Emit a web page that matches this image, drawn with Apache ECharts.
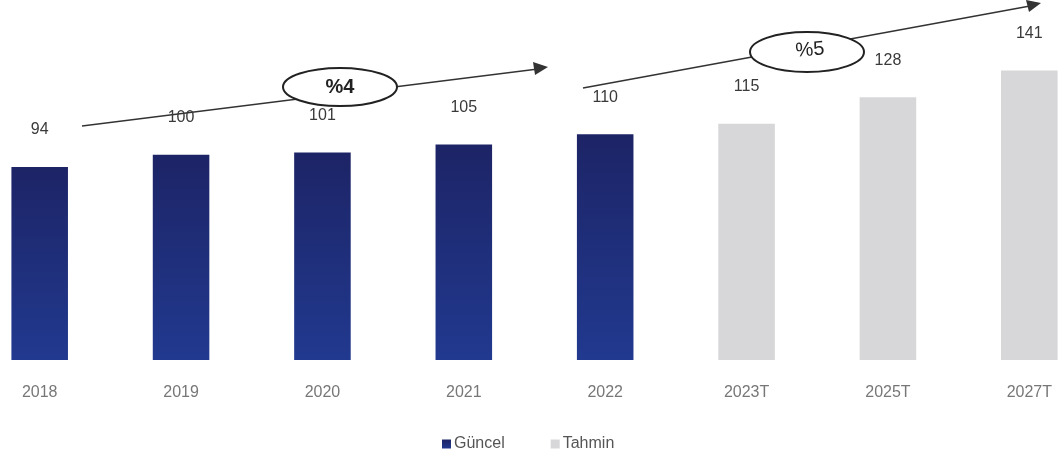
<!DOCTYPE html>
<html>
<head>
<meta charset="utf-8">
<script src="https://cdn.jsdelivr.net/npm/echarts@6/dist/echarts.min.js"></script>
<style>
  html, body { margin: 0; padding: 0; background: #fff; }
  #chart { width: 1063px; height: 466px; }
</style>
</head>
<body>
<div id="chart"></div>
<script>
const years = ['2018', '2019', '2020', '2021', '2022', '2023T', '2025T', '2027T']
const actual = [94, 100, 101, 105, 110, null, null, null]
const forecast = [null, null, null, null, null, 115, 128, 141]

const labelFont = 'Liberation Sans'
const barLabel = {
  show: true,
  position: 'top',
  distance: 29,
  color: '#3a3a3a',
  fontSize: 16,
  fontFamily: labelFont
}

const chart = echarts.init(document.getElementById('chart'))

chart.setOption({
  animation: false,
  grid: { left: -31, right: -37, top: 52, bottom: 106, outerBoundsMode: 'none' },
  legend: {
    bottom: 9,
    left: 437,
    itemWidth: 9,
    itemHeight: 9,
    itemGap: 46,
    icon: 'rect',
    textStyle: { color: '#555', fontSize: 16, fontFamily: labelFont, padding: [0, 0, 0, -2] },
    data: ['Güncel', 'Tahmin']
  },
  xAxis: {
    type: 'category',
    data: years,
    axisLine: { show: false },
    axisTick: { show: false },
    axisLabel: { color: '#777', fontSize: 16, margin: 25, fontFamily: labelFont }
  },
  yAxis: {
    type: 'value',
    min: 0,
    max: 150,
    show: false
  },
  series: [
    {
      name: 'Güncel',
      type: 'bar',
      barWidth: '40%',
      barGap: '-100%',
      label: barLabel,
      itemStyle: {
        color: new echarts.graphic.LinearGradient(0, 0, 0, 1, [
          { offset: 0, color: '#1d2466' },
          { offset: 1, color: '#21398f' }
        ])
      },
      data: actual
    },
    {
      name: 'Tahmin',
      type: 'bar',
      barWidth: '40%',
      label: barLabel,
      itemStyle: { color: '#d7d7da' },
      data: forecast
    }
  ],
  graphic: [
    // first growth arrow
    { type: 'line', shape: { x1: 82, y1: 126, x2: 538, y2: 69 }, style: { stroke: '#333', lineWidth: 1.5 } },
    { type: 'polygon', shape: { points: [[548, 67], [533, 62], [535, 75]] }, style: { fill: '#333' } },
    { type: 'ellipse', shape: { cx: 340, cy: 87, rx: 57, ry: 19 }, style: { fill: '#fff', stroke: '#222', lineWidth: 2 } },
    { type: 'text', x: 340, y: 87, style: { text: '%4', fontSize: 20, fontWeight: 'bold', fill: '#222', align: 'center', verticalAlign: 'middle', fontFamily: labelFont } },
    // second growth arrow
    { type: 'line', shape: { x1: 583, y1: 88, x2: 1030, y2: 6 }, style: { stroke: '#333', lineWidth: 1.5 } },
    { type: 'polygon', shape: { points: [[1041, 3], [1026, 0], [1029, 12]] }, style: { fill: '#333' } },
    { type: 'ellipse', shape: { cx: 807, cy: 52, rx: 57, ry: 20 }, style: { fill: '#fff', stroke: '#222', lineWidth: 2 } },
    { type: 'text', x: 810, y: 50, rotation: 0.08, style: { text: '%5', fontSize: 20, fill: '#222', align: 'center', verticalAlign: 'middle', fontFamily: labelFont } }
  ]
})
</script>
</body>
</html>
